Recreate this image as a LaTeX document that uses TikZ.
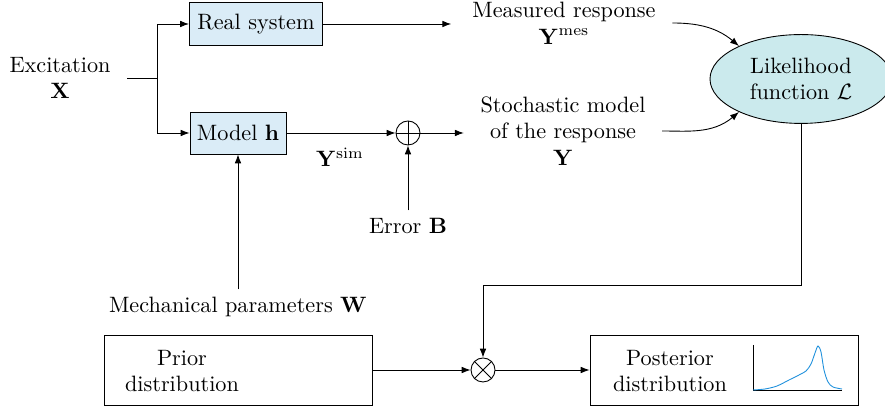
\documentclass[tikz,border=0pt]{standalone}
\usetikzlibrary{shapes.geometric,arrows.meta,positioning}
\definecolor{boxblue}{RGB}{218,236,247}
\definecolor{likcyan}{RGB}{203,234,237}
\definecolor{curveblue}{RGB}{30,144,220}
\begin{document}
\begin{tikzpicture}[x=0.45pt,y=-0.45pt,>={Latex[length=4pt,width=3pt]},
  block/.style={draw,fill=boxblue,inner sep=0pt},
  dist/.style={draw,minimum width=120.6pt,minimum height=31.5pt},
  txt/.style={align=center},
  junc/.style={draw,circle,minimum size=10.8pt,inner sep=0pt}]

\useasboundingbox (0,0) rectangle (885,407);

\node[txt](exc) at (60,78){Excitation\\$\mathbf{X}$};
\coordinate (split) at (157,78);
\node[block,minimum width=59.9pt,minimum height=19.4pt](real) at (256,24){Real system};
\node[block,minimum width=43.2pt,minimum height=18.9pt](model) at (238,133){Model $\mathbf{h}$};
\node[junc](plus) at (408,133){};
\node(ysim) at (340,157){$\mathbf{Y}^{\mathrm{sim}}$};
\node(err) at (408,226){Error $\mathbf{B}$};
\node[txt](mes) at (564,23){Measured response\\$\mathbf{Y}^{\mathrm{mes}}$};
\node[txt](stoch) at (563,131){Stochastic model\\of the response\\$\mathbf{Y}$};
\node[ellipse,draw,fill=likcyan,minimum width=81.9pt,minimum height=40pt,inner sep=0pt,txt](lik) at (801,79){Likelihood\\function $\mathcal{L}$};
\node(mech) at (238,307){Mechanical parameters $\mathbf{W}$};
\node[dist](prior) at (238,370){};
\node[txt](priortxt) at (182,371){Prior\\distribution};
\node[junc](mult) at (483,370){};
\node[dist](post) at (724,370){};
\node[txt](posttxt) at (670,371){Posterior\\distribution};

% symbols in the junctions
\draw (plus.north) -- (plus.south) (plus.west) -- (plus.east);
\draw (mult.north east) -- (mult.south west) (mult.north west) -- (mult.south east);

% small posterior plot
\begin{scope}[shift={(753,390)}]
\draw (0,-45) -- (0,0) -- (89,0);
\draw[curveblue] plot[smooth] coordinates {(0,0) (12,-1) (24,-4) (36,-10) (46,-15) (53,-19) (58,-26) (62,-37) (65,-44) (68,-38) (71,-20) (75,-8) (80,-3) (89,-1)};
\end{scope}

% connectors
\draw[shorten <=4pt] (exc.east) -- (split);
\draw[->] (split) |- (real.west);
\draw[->] (split) |- (model.west);
\draw[->,shorten >=6pt] (real.east) -- (real.east -| mes.west);
\draw[->] (model.east) -- (plus.west);
\draw[->] (err.north) -- (plus.south);
\draw[->,shorten >=4pt] (plus.east) -- (plus.east -| stoch.west);
\draw[->,shorten <=4pt] (mes.east) to[out=0,in=140] (lik.152);
\draw[->,shorten <=4pt] (stoch.east) to[out=0,in=220] (lik.208);
\draw[->] (mech.north) -- (model.south);
\draw[->] (lik.south) -- ++(0,162) -| (mult.north);
\draw[->] (prior.east) -- (mult.west);
\draw[->] (mult.east) -- (post.west);

\end{tikzpicture}
\end{document}
